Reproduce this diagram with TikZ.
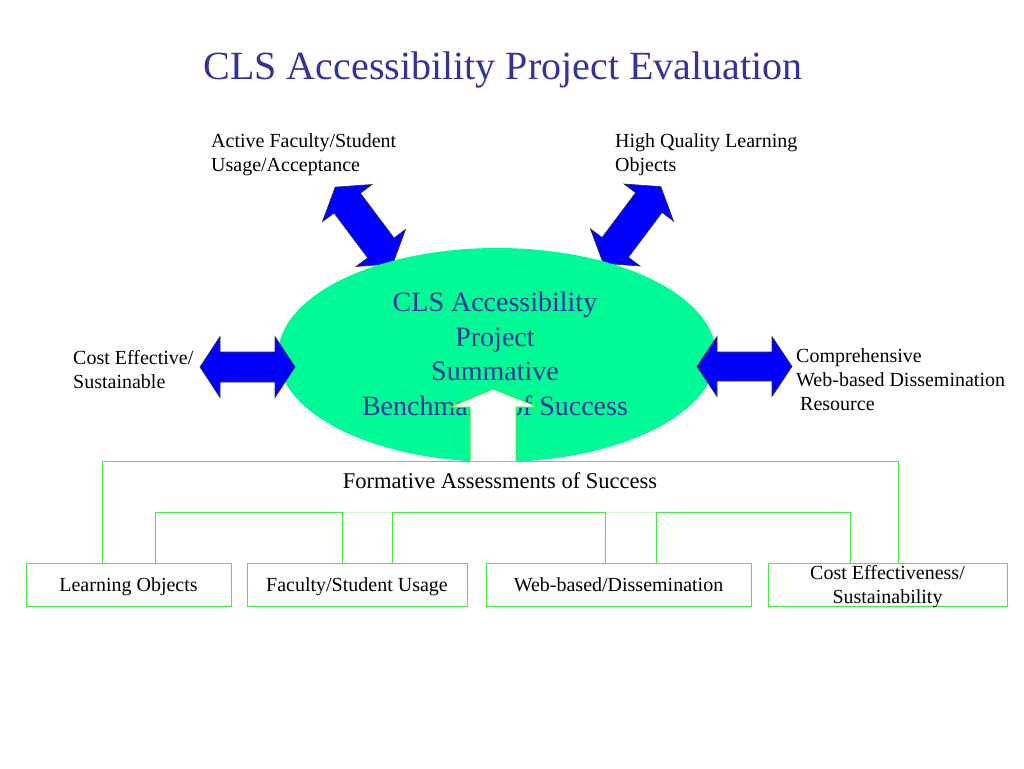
\documentclass[tikz,border=0pt]{standalone}
\usepackage{fontspec}
\setmainfont{Liberation Serif}
\usetikzlibrary{shapes.geometric}
\definecolor{titleblue}{RGB}{51,51,153}
\definecolor{mint}{RGB}{0,250,150}
\definecolor{lgreen}{RGB}{60,240,60}
\definecolor{fgreen}{RGB}{205,250,205}
\definecolor{pblue}{RGB}{0,0,255}
\tikzset{
  lbl/.style={font=\fontsize{20}{24}\selectfont, align=left, anchor=west, inner sep=0pt},
  boxnode/.style={draw=lgreen, line width=1pt, minimum height=43pt, inner sep=0pt, align=center, font=\fontsize{20}{24}\selectfont},
  boxtext/.style={font=\fontsize{20}{24}\selectfont, inner sep=0pt, anchor=base},
  conn/.style={draw=lgreen, line width=1pt},
  faint/.style={draw=fgreen, line width=1pt},
  dblarrow/.style={fill=pblue, draw=black!80, line width=0.6pt, line join=miter},
}
% double arrow: #1 half length, #2 head length, #3 head half width, #4 shaft half width
\newcommand{\mydblarrow}[4]{%
  \path[dblarrow] (-#1,0) -- (-#1+#2,#3) -- (-#1+#2,#4) -- (#1-#2,#4) -- (#1-#2,#3) -- (#1,0)
    -- (#1-#2,-#3) -- (#1-#2,-#4) -- (-#1+#2,-#4) -- (-#1+#2,-#3) -- cycle;}
\begin{document}
\begin{tikzpicture}[x=1pt,y=-1pt]
\useasboundingbox[fill=white] (0,0) rectangle (1024,768);

% title
\node[anchor=base, text=titleblue, font=\fontsize{40}{48}\selectfont, inner sep=0pt] (title) at (503,79) {CLS Accessibility Project Evaluation};

% top diagonal arrows (behind ellipse)
\begin{scope}[shift={(364,225.5)}, rotate=-53.13]
  \mydblarrow{48}{20}{31}{16.5}
\end{scope}
\begin{scope}[shift={(632,225)}, rotate=53.13]
  \mydblarrow{48}{20}{31}{16.5}
\end{scope}

% ellipse
\node[ellipse, fill=mint, minimum width=438pt, minimum height=214pt, inner sep=0pt] (ell) at (497,355) {};
\node[text=titleblue, font=\fontsize{28}{34.5}\selectfont, align=center, inner sep=0pt] (elltext) at (495,354) {CLS Accessibility\\Project\\Summative\\Benchmarks of Success};

% side arrows
\begin{scope}[shift={(247.5,367)}]
  \mydblarrow{47.5}{20}{30.5}{15}
\end{scope}
\begin{scope}[shift={(744.5,366.5)}]
  \mydblarrow{47.5}{20}{30}{14.5}
\end{scope}

% labels
\node[lbl] (l1) at (211,155) {Active Faculty/Student\\Usage/Acceptance};
\node[lbl] (l2) at (615,155) {High Quality Learning\\Objects};
\node[lbl] (l3) at (73,370) {Cost Effective/\\Sustainable};
\node[lbl] (l4) at (796,380) {Comprehensive\\Web-based Dissemination\\\hspace{4pt}Resource};

% formative text
\node[font=\fontsize{22.5}{27}\selectfont, inner sep=0pt] (form) at (500,481) {Formative Assessments of Success};

% boxes
\node[boxnode, minimum width=205pt] (b1) at (128.5,584.5) {};
\node[boxnode, minimum width=220pt] (b2) at (357,584.5) {};
\node[boxnode, minimum width=265pt] (b3) at (618.5,584.5) {};
\node[boxnode, minimum width=239pt] (b4) at (887.5,584.5) {};
\node[boxtext] (t1) at (128.5,591.5) {Learning Objects};
\node[boxtext] (t2) at (357,591.5) {Faculty/Student Usage};
\node[boxtext] (t3) at (618.5,591.5) {Web-based/Dissemination};
\node[boxtext] (t4a) at (887.5,579.5) {Cost Effectiveness/};
\node[boxtext] (t4b) at (887.5,603.5) {Sustainability};

% connectors
\coordinate (topL) at (102,461);
\coordinate (topR) at (898,461);
\draw[conn] (b1.north -| topL) -- (topL) -- (topR) -- (b4.north -| topR);
\coordinate (m1) at (155,512);
\coordinate (m2) at (342,512);
\coordinate (m3) at (392,512);
\coordinate (m4) at (605,512);
\coordinate (m5) at (656,512);
\coordinate (m6) at (850,512);
\draw[faint] (m2) -- (m3);
\draw[faint] (m4) -- (m5);
\draw[conn] (b1.north -| m1) -- (m1) -- (m2) -- (b2.north -| m2);
\draw[conn] (b2.north -| m3) -- (m3) -- (m4) -- (b3.north -| m4);
\draw[conn] (b3.north -| m5) -- (m5) -- (m6) -- (b4.north -| m6);

% white up arrow
\path[fill=white, draw=lgreen, line width=1pt] (470,461) -- (470,407) -- (450,407) -- (493,389) -- (538,407) -- (516,407) -- (516,461);
\end{tikzpicture}
\end{document}
